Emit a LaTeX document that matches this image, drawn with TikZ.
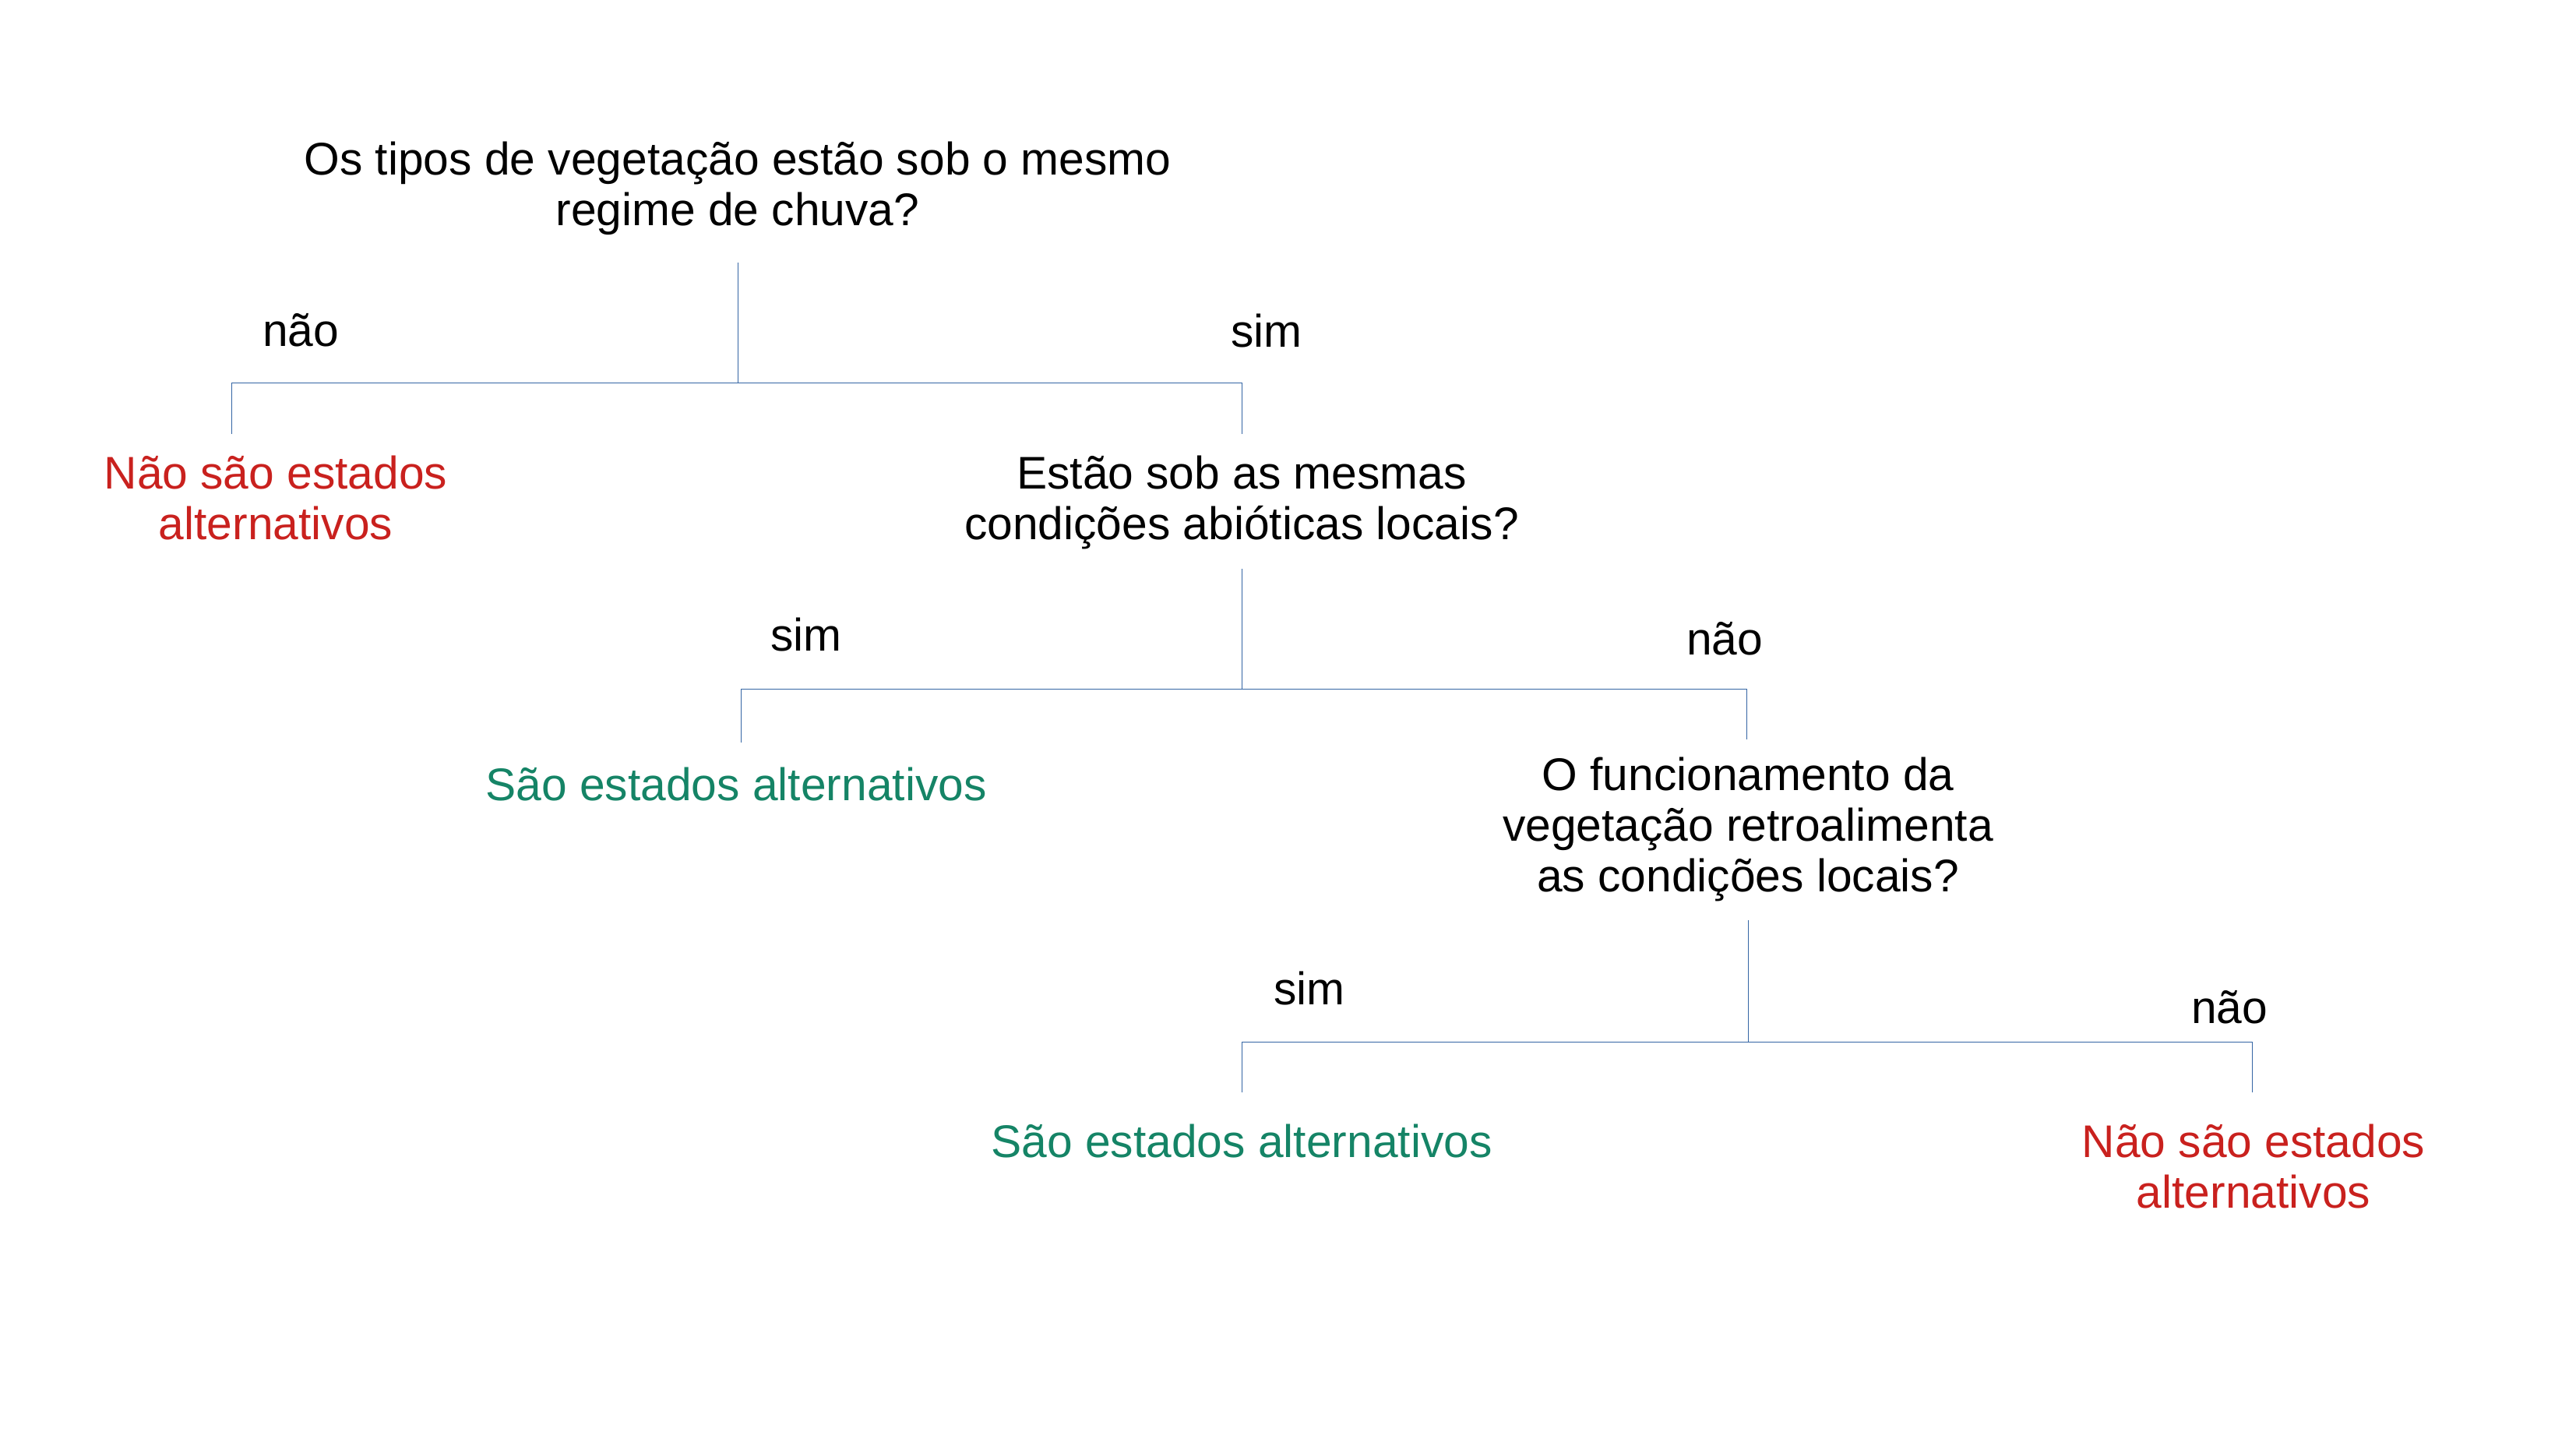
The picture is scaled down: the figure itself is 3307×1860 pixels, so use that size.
\documentclass[tikz,border=0pt]{standalone}
\usepackage{fontspec}
\setmainfont{Liberation Sans}
\definecolor{linkblue}{HTML}{3465A4}
\definecolor{nored}{HTML}{C9211E}
\definecolor{yesgreen}{HTML}{158466}
\begin{document}
\begin{tikzpicture}[x=0.01cm,y=-0.01cm,
    txt/.style={align=center,inner sep=0pt,font=\fontsize{16.7}{18.5}\selectfont},
    question/.style={txt,text=black},
    answer/.style={txt,text=black},
    notalt/.style={txt,text=nored},
    isalt/.style={txt,text=yesgreen},
    link/.style={draw=linkblue,line width=0.28pt}]
      \useasboundingbox (0,0) rectangle (3307,1860);
      % perguntas
      \node[question] (q1) at (947,242) {Os tipos de vegetação estão sob o mesmo\\regime de chuva?};
      \node[question] (q2) at (1594,645) {Estão sob as mesmas\\condições abióticas locais?};
      \node[question] (q3) at (2244,1064) {O funcionamento da\\vegetação retroalimenta\\as condições locais?};
      % respostas
      \node[notalt] (r1) at (354,639) {Não são estados\\alternativos};
      \node[isalt] (r2) at (945,1006) {São estados alternativos};
      \node[isalt] (r3) at (1594,1464) {São estados alternativos};
      \node[notalt] (r4) at (2893,1497) {Não são estados\\alternativos};
      % rotulos
      \node[answer] (n1) at (386,424) {não};
      \node[answer] (s1) at (1626,424) {sim};
      \node[answer] (s2) at (1035,814) {sim};
      \node[answer] (n2) at (2214,820) {não};
      \node[answer] (s3) at (1681,1268) {sim};
      \node[answer] (n3) at (2862,1293) {não};
      % pontos das ligacoes
      \coordinate (q1b) at (947,337);
      \coordinate (j1) at (947,491);
      \coordinate (r1t) at (297,557);
      \coordinate (q2t) at (1594,557);
      \coordinate (q2b) at (1594,730);
      \coordinate (j2) at (1594,884);
      \coordinate (r2t) at (951,953);
      \coordinate (q3t) at (2242,949);
      \coordinate (q3b) at (2244,1181);
      \coordinate (j3) at (2244,1337);
      \coordinate (r3t) at (1594,1402);
      \coordinate (r4t) at (2891,1402);
      \begin{scope}[link]
        \draw (q1b) -- (j1);
        \draw (r1t) |- (j1) -| (q2t);
        \draw (q2b) -- (j2);
        \draw (r2t) |- (j2) -| (q3t);
        \draw (q3b) -- (j3);
        \draw (r3t) |- (j3) -| (r4t);
      \end{scope}
    \end{tikzpicture}
\end{document}
